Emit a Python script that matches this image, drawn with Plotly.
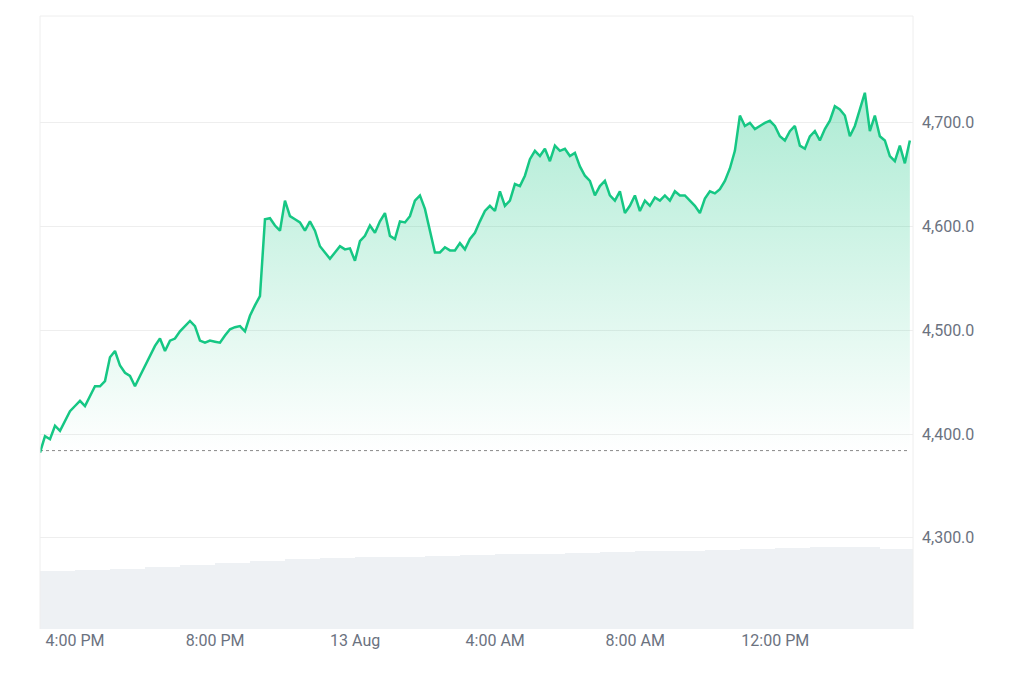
import pandas as pd
import plotly.graph_objects as go

# price samples, one every ~8.5 minutes starting 12 Aug 15:00
prices = [4382, 4398, 4395, 4408, 4403, 4413, 4422, 4427, 4432, 4427, 4437, 4446, 4446, 4451, 4474, 4480,
          4466, 4459, 4456, 4446, 4456, 4466, 4475, 4485, 4492, 4480, 4490, 4492, 4499, 4504, 4509, 4504,
          4490, 4488, 4490, 4489, 4488, 4495, 4501, 4503, 4504, 4499, 4514, 4524, 4533, 4607, 4608, 4601,
          4596, 4625, 4610, 4607, 4604, 4596, 4605, 4596, 4581, 4575, 4569, 4575, 4581, 4578, 4579, 4567,
          4586, 4591, 4601, 4594, 4605, 4613, 4591, 4588, 4605, 4604, 4610, 4625, 4630, 4617, 4596, 4575,
          4575, 4580, 4577, 4577, 4584, 4578, 4588, 4594, 4605, 4615, 4620, 4615, 4634, 4620, 4625, 4641,
          4639, 4649, 4665, 4673, 4668, 4675, 4663, 4678, 4673, 4675, 4668, 4671, 4658, 4649, 4644, 4630,
          4639, 4644, 4630, 4625, 4634, 4613, 4620, 4630, 4615, 4625, 4620, 4628, 4625, 4630, 4625, 4634,
          4630, 4630, 4625, 4620, 4613, 4627, 4634, 4632, 4636, 4644, 4656, 4673, 4707, 4697, 4700, 4694,
          4697, 4700, 4702, 4697, 4687, 4683, 4692, 4697, 4678, 4675, 4687, 4692, 4683, 4694, 4702, 4716,
          4713, 4707, 4687, 4697, 4713, 4729, 4692, 4707, 4687, 4683, 4668, 4663, 4678, 4661, 4683]
times = pd.date_range("2023-08-12 15:00", periods=len(prices), freq="514s")

# hourly volume (arbitrary units)
volume_hours = pd.date_range("2023-08-12 15:00", periods=25, freq="1h")
volume = [58, 59, 60, 62, 64, 66, 68, 70, 71, 72, 72, 73, 74, 75, 75, 76, 77, 78, 78, 79, 80, 81, 82, 82, 80]

open_price = 4384
tick_times = ["2023-08-12 16:00", "2023-08-12 20:00", "2023-08-13 00:00",
              "2023-08-13 04:00", "2023-08-13 08:00", "2023-08-13 12:00"]
tick_labels = ["4:00 PM", "8:00 PM", "13 Aug", "4:00 AM", "8:00 AM", "12:00 PM"]

green = "#16c784"

fig = go.Figure()
fig.add_trace(go.Bar(x=volume_hours, y=volume, yaxis="y2", offset=0, width=3600000,
                     marker=dict(color="#eef1f4", line_width=0), hoverinfo="skip"))
fig.add_trace(go.Scatter(x=times, y=[open_price] * len(times), mode="lines",
                         line=dict(color="#888", width=1, dash="dot"), hoverinfo="skip"))
fig.add_trace(go.Scatter(x=times, y=prices, mode="lines", line=dict(color=green, width=2.5),
                         fill="tonexty",
                         fillgradient=dict(type="vertical",
                                           colorscale=[[0, "rgba(22,199,132,0)"],
                                                       [1, "rgba(22,199,132,0.35)"]])))

fig.update_layout(
    width=1024, height=683, showlegend=False, plot_bgcolor="white", paper_bgcolor="white",
    margin=dict(l=32, r=119, t=8, b=62), bargap=0,
    font=dict(family="Roboto, Arial, sans-serif", size=16, color="#6b7280"),
    xaxis=dict(range=["2023-08-12 15:00", "2023-08-13 15:56"], tickvals=tick_times, ticktext=tick_labels,
               showgrid=False, zeroline=False, showline=False, ticks=""),
    yaxis=dict(side="right", range=[4212, 4803], tickvals=[4300, 4400, 4500, 4600, 4700],
               tickformat=",.1f", gridcolor="#eeeeee", zeroline=False, ticks="", ticklabelstandoff=8),
    yaxis2=dict(overlaying="y", range=[0, 613], visible=False),
    shapes=[dict(type="line", xref="paper", yref="paper", x0=0, x1=0, y0=0, y1=1,
                 line=dict(color="#eeeeee", width=1)),
            dict(type="line", xref="paper", yref="paper", x0=1, x1=1, y0=0, y1=1,
                 line=dict(color="#eeeeee", width=1)),
            dict(type="line", xref="paper", yref="paper", x0=0, x1=1, y0=1, y1=1,
                 line=dict(color="#eeeeee", width=1))],
)

fig.write_html("out.html")
